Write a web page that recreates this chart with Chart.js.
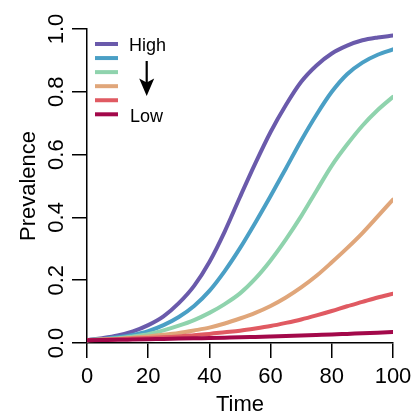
<!DOCTYPE html>
<html>
<head>
<meta charset="utf-8">
<title>Prevalence over time</title>
<script src="https://cdn.jsdelivr.net/npm/chart.js@4.4.0/dist/chart.umd.min.js"></script>
<style>
    html, body { margin: 0; padding: 0; background: #ffffff; }
    #wrap { width: 415px; height: 414px; }
</style>
</head>
<body>
<div id="wrap"><canvas id="prevChart" width="415" height="414"></canvas></div>
<script>
// Time points and prevalence per transmission level (high -> low)
const time = [0, 5, 10, 15, 20, 25, 30, 35, 40, 45, 50, 55, 60, 65, 70, 75, 80, 85, 90, 95, 100];
const prevLevel1 = [0.009, 0.0155, 0.024, 0.037, 0.057, 0.085, 0.127, 0.182, 0.258, 0.355, 0.465, 0.572, 0.672, 0.758, 0.832, 0.884, 0.922, 0.947, 0.964, 0.973, 0.979];
const prevLevel2 = [0.009, 0.013, 0.018, 0.026, 0.038, 0.057, 0.083, 0.118, 0.166, 0.229, 0.302, 0.383, 0.468, 0.556, 0.645, 0.727, 0.800, 0.856, 0.893, 0.918, 0.935];
const prevLevel3 = [0.009, 0.012, 0.015, 0.021, 0.028, 0.040, 0.055, 0.073, 0.096, 0.124, 0.158, 0.205, 0.263, 0.330, 0.404, 0.485, 0.565, 0.632, 0.692, 0.742, 0.784];
const prevLevel4 = [0.009, 0.011, 0.013, 0.017, 0.021, 0.026, 0.032, 0.040, 0.049, 0.062, 0.078, 0.096, 0.118, 0.145, 0.177, 0.214, 0.257, 0.302, 0.350, 0.403, 0.457];
const prevLevel5 = [0.009, 0.0105, 0.012, 0.014, 0.016, 0.018, 0.021, 0.025, 0.029, 0.034, 0.039, 0.046, 0.054, 0.064, 0.075, 0.088, 0.102, 0.117, 0.131, 0.145, 0.157];
const prevLevel6 = [0.009, 0.0095, 0.010, 0.011, 0.012, 0.013, 0.014, 0.015, 0.016, 0.017, 0.018, 0.0195, 0.021, 0.0225, 0.024, 0.0255, 0.027, 0.029, 0.031, 0.033, 0.035];

const seriesColors = ['#6a5aab', '#4a9fc5', '#8fd3ad', '#e0a67a', '#e05a62', '#a3084a'];
const legendLabels = ['High', '', '', '', '', 'Low'];

const xTicks = [0, 20, 40, 60, 80, 100];
const xTickLabels = ['0', '20', '40', '60', '80', '100'];
const yTicks = [0, 0.2, 0.4, 0.6, 0.8, 1.0];
const yTickLabels = ['0.0', '0.2', '0.4', '0.6', '0.8', '1.0'];

const xTitle = 'Time';
const yTitle = 'Prevalence';

const FONT = '"Liberation Sans", Arial, Helvetica, sans-serif';

// Tick labels (y ones rotated) and axis titles, base-graphics style
const axisText = {
    id: 'axisText',
    afterDraw(chart) {
        const ctx = chart.ctx;
        const xs = chart.scales.x;
        const ys = chart.scales.y;
        const area = chart.chartArea;
        ctx.save();
        ctx.fillStyle = '#000';
        ctx.font = '22px ' + FONT;
        ctx.textAlign = 'center';
        ctx.textBaseline = 'alphabetic';

        xTicks.forEach((v, i) => {
            ctx.fillText(xTickLabels[i], xs.getPixelForValue(v), 383);
        });

        yTicks.forEach((v, i) => {
            ctx.save();
            ctx.translate(63, ys.getPixelForValue(v));
            ctx.rotate(-Math.PI / 2);
            ctx.fillText(yTickLabels[i], 0, 0);
            ctx.restore();
        });

        ctx.fillText(xTitle, (area.left + area.right) / 2, 411);

        ctx.save();
        ctx.translate(35, (area.top + area.bottom) / 2);
        ctx.rotate(-Math.PI / 2);
        ctx.fillText(yTitle, 0, 0);
        ctx.restore();
        ctx.restore();
    }
};

// Legend: six colour keys, "High"/"Low" text and a down arrow between them
const levelLegend = {
    id: 'levelLegend',
    afterDraw(chart) {
        const ctx = chart.ctx;
        const x0 = 95, x1 = 118, top = 44, step = 14.06;
        ctx.save();
        ctx.lineWidth = 4;
        ctx.lineCap = 'butt';
        seriesColors.forEach((c, i) => {
            const y = top + i * step;
            ctx.strokeStyle = c;
            ctx.beginPath();
            ctx.moveTo(x0, y);
            ctx.lineTo(x1, y);
            ctx.stroke();
        });

        ctx.fillStyle = '#000';
        ctx.font = '18px ' + FONT;
        ctx.textAlign = 'left';
        ctx.textBaseline = 'alphabetic';
        ctx.fillText(legendLabels[0], 129, 51);
        ctx.fillText(legendLabels[5], 130, 122);

        // arrow
        const ax = 146.7;
        ctx.strokeStyle = '#000';
        ctx.lineWidth = 2.2;
        ctx.beginPath();
        ctx.moveTo(ax, 61);
        ctx.lineTo(ax, 84);
        ctx.stroke();
        ctx.beginPath();
        ctx.moveTo(ax, 96);
        ctx.lineTo(ax - 7.5, 78.5);
        ctx.lineTo(ax, 82.5);
        ctx.lineTo(ax + 7.5, 78.5);
        ctx.closePath();
        ctx.fill();
        ctx.restore();
    }
};

const levels = [prevLevel1, prevLevel2, prevLevel3, prevLevel4, prevLevel5, prevLevel6];

const datasets = levels.map((vals, i) => ({
    label: legendLabels[i] || ('level ' + (i + 1)),
    data: time.map((t, k) => ({ x: t, y: vals[k] })),
    borderColor: seriesColors[i],
    borderWidth: 4,
    borderCapStyle: 'round',
    borderJoinStyle: 'round',
    pointRadius: 0,
    fill: false,
    cubicInterpolationMode: 'monotone',
    order: levels.length - i // low level drawn last, on top
}));

new Chart(document.getElementById('prevChart'), {
    type: 'line',
    data: { datasets: datasets },
    plugins: [axisText, levelLegend],
    options: {
        responsive: false,
        animation: false,
        devicePixelRatio: 1,
        layout: { padding: { top: 29, right: 22, left: 0, bottom: 0 } },
        plugins: {
            legend: { display: false },
            tooltip: { enabled: false }
        },
        scales: {
            x: {
                type: 'linear',
                min: 0,
                max: 100,
                afterFit: (s) => { s.height = 71; },
                ticks: { display: false, stepSize: 20 },
                grid: { drawOnChartArea: false, drawTicks: true, tickLength: 15, color: '#000', lineWidth: 1.5 },
                border: { display: true, color: '#000', width: 1.5 }
            },
            y: {
                min: 0,
                max: 1,
                afterFit: (s) => { s.width = 87; },
                ticks: { display: false, stepSize: 0.2 },
                grid: { drawOnChartArea: false, drawTicks: true, tickLength: 15, color: '#000', lineWidth: 1.5 },
                border: { display: true, color: '#000', width: 1.5 }
            }
        }
    }
});
</script>
</body>
</html>
